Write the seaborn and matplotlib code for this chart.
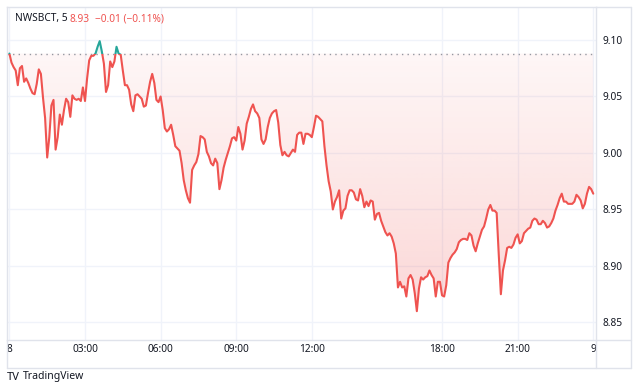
import numpy as np
import pandas as pd
import matplotlib
matplotlib.use("Agg")
import matplotlib.pyplot as plt
import seaborn as sns
from matplotlib.colors import to_rgb
from matplotlib.lines import Line2D
from matplotlib.patches import Rectangle
from matplotlib.path import Path
from matplotlib.transforms import Bbox, TransformedBbox


# DATA

# 5-minute closes, one per bar, from 00:00 on the 8th
prices = [
    9.088, 9.080, 9.076, 9.073, 9.060, 9.075, 9.077, 9.063, 9.066, 9.062, 9.057, 9.053,
    9.052, 9.061, 9.074, 9.070, 9.049, 9.031, 8.996, 9.014, 9.042, 9.047, 9.003, 9.014,
    9.034, 9.025, 9.038, 9.048, 9.045, 9.032, 9.051, 9.048, 9.047, 9.048, 9.046, 9.058,
    9.046, 9.066, 9.082, 9.086, 9.086, 9.088, 9.094, 9.099, 9.090, 9.079, 9.054, 9.060,
    9.081, 9.076, 9.081, 9.094, 9.088, 9.087, 9.073, 9.060, 9.060, 9.056, 9.043, 9.037,
    9.051, 9.052, 9.050, 9.048, 9.041, 9.042, 9.053, 9.063, 9.070, 9.062, 9.047, 9.045,
    9.050, 9.038, 9.022, 9.019, 9.021, 9.025, 9.016, 9.006, 9.004, 9.002, 8.991, 8.976,
    8.967, 8.960, 8.956, 8.985, 8.989, 8.992, 8.999, 9.015, 9.014, 9.012, 9.001, 8.997,
    8.991, 8.989, 8.995, 8.991, 8.968, 8.976, 8.987, 8.994, 9.000, 9.006, 9.013, 9.014,
    9.011, 9.023, 9.017, 9.003, 9.011, 9.026, 9.032, 9.039, 9.043, 9.037, 9.035, 9.031,
    9.012, 9.008, 9.012, 9.023, 9.031, 9.035, 9.037, 9.038, 9.027, 9.007, 8.998, 9.001,
    8.998, 8.997, 9.000, 9.003, 9.001, 9.016, 9.018, 9.018, 9.008, 9.017, 9.017, 9.016,
    9.014, 9.023, 9.033, 9.032, 9.030, 9.028, 9.006, 8.989, 8.975, 8.966, 8.950, 8.957,
    8.961, 8.967, 8.942, 8.949, 8.951, 8.962, 8.967, 8.967, 8.965, 8.959, 8.958, 8.968,
    8.962, 8.952, 8.957, 8.953, 8.958, 8.957, 8.941, 8.946, 8.947, 8.940, 8.935, 8.930,
    8.927, 8.929, 8.926, 8.920, 8.911, 8.881, 8.886, 8.881, 8.882, 8.873, 8.889, 8.892,
    8.888, 8.876, 8.860, 8.880, 8.890, 8.888, 8.890, 8.891, 8.896, 8.892, 8.889, 8.873,
    8.886, 8.886, 8.874, 8.873, 8.883, 8.903, 8.907, 8.910, 8.912, 8.915, 8.921, 8.923,
    8.924, 8.924, 8.923, 8.929, 8.927, 8.918, 8.913, 8.920, 8.926, 8.932, 8.935, 8.942,
    8.950, 8.954, 8.949, 8.949, 8.947, 8.910, 8.875, 8.896, 8.905, 8.916, 8.917, 8.916,
    8.919, 8.925, 8.928, 8.920, 8.922, 8.929, 8.931, 8.933, 8.934, 8.940, 8.942, 8.941,
    8.937, 8.937, 8.940, 8.938, 8.934, 8.935, 8.938, 8.942, 8.949, 8.954, 8.960, 8.964,
    8.957, 8.957, 8.955, 8.955, 8.955, 8.957, 8.963, 8.961, 8.958, 8.951, 8.955, 8.964,
    8.970, 8.968, 8.964,
]

baseline = 9.088

# bar index of each time label (about 10 bars are missing between 12:00 and 18:00)
time_tick_bars = [0, 36, 72, 108, 144, 206, 242, 278]
time_tick_labels = ["8", "03:00", "06:00", "09:00", "12:00", "18:00", "21:00", "9"]

price_ticks = [8.85, 8.90, 8.95, 9.00, 9.05, 9.10]

symbol = "NWSBCT, 5"
last_price = "8.93"
change_text = "\u22120.01 (\u22120.11%)"


# STYLE

RED = "#ef5350"
TEAL = "#26a69a"
TEXT = "#131722"
BORDER = "#e0e3eb"
GRID = "#f0f3fa"

sns.set_theme(style="white")
plt.rcParams["font.family"] = ["Noto Sans", "DejaVu Sans"]

W, H = 640, 391
fig = plt.figure(figsize=(W / 100, H / 100), dpi=100)
fig.patch.set_facecolor("white")

# main pane: x 7..596 px, y 7..340 px
ax = fig.add_axes([7 / W, (H - 340) / H, 589 / W, 333 / H])

df = pd.DataFrame({"bar": np.arange(len(prices)), "close": prices})
x = df["bar"].to_numpy()
y = df["close"].to_numpy()

x0, x1 = -1.14, 279.3
y0, y1 = 8.8345, 9.1292


# FILLS

fill = ax.fill_between(x, y, baseline, where=y <= baseline, interpolate=True,
                       facecolor="none", edgecolor="none")
grad = np.zeros((256, 1, 4))
grad[..., :3] = to_rgb(RED)
grad[..., 3] = np.linspace(0.25, 0.05, 256)[:, None]
im = ax.imshow(grad, extent=[x0, x1, y0, baseline], origin="lower",
               aspect="auto", zorder=1, interpolation="bilinear")
im.set_clip_path(Path.make_compound_path(*fill.get_paths()), transform=ax.transData)

ax.fill_between(x, y, baseline, where=y >= baseline, interpolate=True,
                color=TEAL, alpha=0.1, lw=0, zorder=1)

ax.axhline(baseline, color="#9598a1", lw=1, ls=(0, (1, 3)), zorder=2)


# LINE (red below baseline, teal above)

sns.lineplot(data=df, x="bar", y="close", color=RED, lw=1.5, ax=ax, zorder=3)
ax.lines[-1].set_clip_path(Rectangle((x0, y0), x1 - x0, baseline - y0,
                                     transform=ax.transData))
sns.lineplot(data=df, x="bar", y="close", color=TEAL, lw=1.5, ax=ax, zorder=3)
ax.lines[-1].set_clip_path(Rectangle((x0, baseline), x1 - x0, y1 - baseline,
                                     transform=ax.transData))


# AXES

ax.set_xlim(x0, x1)
ax.set_ylim(y0, y1)
ax.set_xlabel("")
ax.set_ylabel("")

ax.set_xticks(time_tick_bars)
ax.set_xticklabels(time_tick_labels)
ax.set_yticks(price_ticks)
ax.set_yticklabels([f"{p:.2f}" for p in price_ticks])
ax.yaxis.tick_right()

ax.tick_params(axis="x", length=0, pad=3, labelsize=7.3, labelcolor=TEXT)
ax.tick_params(axis="y", length=0, pad=5, labelsize=7.3, labelcolor=TEXT)

ax.grid(True, color=GRID, lw=1, zorder=0)
ax.set_axisbelow(True)
for s in ax.spines.values():
    s.set_color(BORDER)
    s.set_linewidth(1)

# time labels get cut at the pane edges
clip = TransformedBbox(Bbox([[0, -1], [1, 1]]), ax.transAxes)
for lab in ax.get_xticklabels():
    lab.set_clip_box(clip)
    lab.set_clip_on(True)


# OUTER FRAME (price scale + time scale)

def fline(xs, ys):
    fig.add_artist(Line2D([v / W for v in xs], [1 - v / H for v in ys],
                          color=BORDER, lw=1))

fline([631, 631], [7, 368])
fline([7, 631], [368, 368])
fline([596, 631], [7, 7])
fline([7, 7], [340, 368])
fline([596, 596], [340, 368])
fline([596, 631], [340, 340])


# LEGEND TEXT

ty = 1 - 19 / H
fig.text(15 / W, ty, symbol, color=TEXT, fontsize=7.3, va="center")
fig.text(69 / W, ty, last_price, color=RED, fontsize=7.3, va="center")
fig.text(95 / W, ty, change_text, color=RED, fontsize=7.3, va="center")

ly = 1 - 377 / H
fig.text(7 / W, ly, "TV", color=TEXT, fontsize=8, fontweight="bold", va="center")
fig.text(23 / W, ly, "TradingView", color=TEXT, fontsize=7.5, va="center")

fig.savefig("out.png", dpi=100)
